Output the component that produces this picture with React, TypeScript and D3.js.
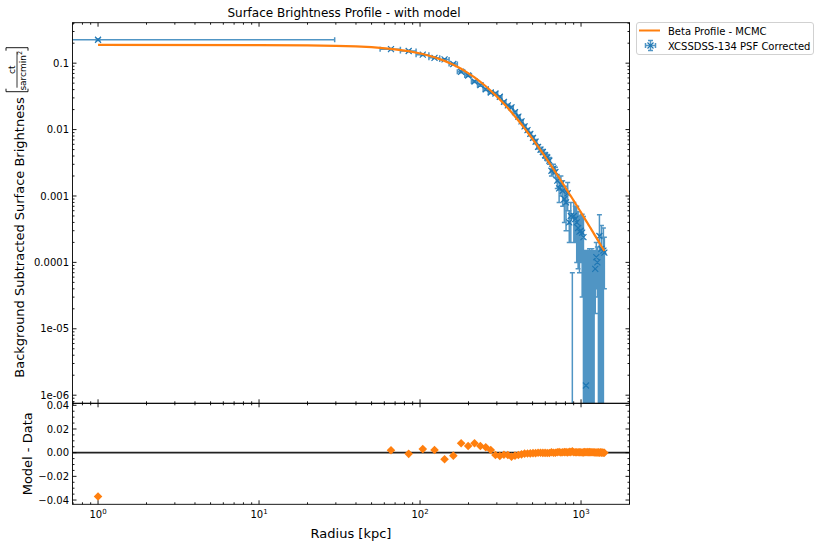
import * as d3 from "d3";

// annulus centres [kpc]
const radiusKpc = [
  1, 66, 85, 104, 123, 142, 161, 180, 199, 218, 237, 256, 275, 294, 313, 332, 351, 370, 389, 408,
  427, 446, 465, 484, 503, 522, 541, 560, 579, 598, 617, 636, 655, 674, 693, 712, 731, 750, 769, 788,
  807, 826, 845, 864, 883, 902, 921, 940, 959, 978, 997, 1016, 1035, 1054, 1073, 1092, 1111, 1130, 1149, 1168,
  1187, 1206, 1225, 1244, 1263, 1282, 1301, 1320, 1339, 1358, 1377, 1396,
];
// first annulus spans the core, the others are ~19 kpc wide
const firstBinEdge = [0, 29.5];
const binHalfWidth = 9.5;

// background subtracted surface brightness [ct / sarcmin^2]
const brightness = [
  0.225, 0.1627, 0.1526, 0.1344, 0.1204, 0.1139, 0.0972, 0.0742, 0.0653, 0.053, 0.0467, 0.0403, 0.0362, 0.035, 0.0312, 0.0261, 0.0231, 0.0216, 0.0183, 0.0157,
  0.0133, 0.0112, 0.0098, 0.0086, 0.0075, 0.0066, 0.0055, 0.005, 0.0046, 0.0041, 0.0038, 0.0034, 0.0024, 0.0026, 0.0023, 0.0017, 0.0013, 0.0015, 0.0012, 0.0009,
  0.0008, 0.0011, 0.0004, 0.0005, -0.0002, 0.0005, 0.00045, 0.0004, 0.00033, 0.00029, 0.0003, 0.00028, 0.00024, -0.00005, 0.0000014, -0.00005, -0.00002, -0.0001, -0.00003, -0.00004,
  -0.00002, -0.00002, 0.00008, 0.00012, 0.0001, -0.00005, 0.00025, -0.0001, 0.00016, -0.00005, 0.00015, 0.00014,
];
const brightnessErr = [
  0.006, 0.004, 0.004, 0.0035, 0.003, 0.003, 0.0028, 0.0025, 0.0022, 0.002, 0.0018, 0.0016, 0.0014, 0.0013, 0.0012, 0.0011, 0.001, 0.0009, 0.0008, 0.0008,
  0.0007, 0.0006, 0.0006, 0.0005, 0.0005, 0.0005, 0.0004, 0.0004, 0.0004, 0.0004, 0.0004, 0.0004, 0.0004, 0.0004, 0.0004, 0.0004, 0.0005, 0.0005, 0.0005, 0.0005,
  0.0005, 0.0005, 0.0002, 0.0003, 0.00027, 0.0003, 0.00025, 0.0003, 0.00025, 0.00022, 0.0002, 0.00025, 0.00025, 0.0002, 0.00015, 0.0002, 0.00017, 0.00026, 0.00018, 0.0002,
  0.00017, 0.00017, 0.000063, 0.00008, 0.00007, 0.0002, 0.00027, 0.00025, 0.0002, 0.0002, 0.00018, 0.0001,
];
// beta profile (MCMC), sampled along radius
const modelRadius = [
  1, 10, 20, 30, 40, 50, 66, 85, 104, 123, 142, 161, 180, 199, 218, 237, 256, 275, 294, 313, 332, 351, 370, 389, 408,
  427, 446, 465, 484, 503, 522, 541, 560, 579, 598, 617, 636, 655, 674, 693, 712, 731, 750, 769, 788,
  807, 826, 845, 864, 883, 902, 921, 940, 959, 978, 997, 1016, 1035, 1054, 1073, 1092, 1111, 1130, 1149, 1168,
  1187, 1206, 1225, 1244, 1263, 1282, 1301, 1320, 1339, 1358, 1377, 1396,
];
const betaModel = [
  0.188, 0.1874, 0.1857, 0.1828, 0.1789, 0.1741,
  0.1647, 0.1516, 0.1374, 0.1227, 0.1083, 0.0947, 0.0822, 0.071, 0.061, 0.0524, 0.0449, 0.0385, 0.033, 0.0284, 0.0244, 0.0211, 0.0182, 0.01576, 0.01369,
  0.01192, 0.01041, 0.00912, 0.00801, 0.00706, 0.00624, 0.00553, 0.00491, 0.00438, 0.0039, 0.00349, 0.00313, 0.00281, 0.00254, 0.00229, 0.00207, 0.00188, 0.00171, 0.00155, 0.00142,
  0.00129, 0.00118, 0.00108, 0.000996, 0.000916, 0.000844, 0.000778, 0.000719, 0.000664, 0.000615, 0.00057, 0.000529, 0.000491, 0.000457, 0.000426, 0.000398, 0.000371, 0.000347, 0.000325, 0.000304,
  0.000285, 0.000267, 0.000251, 0.000236, 0.000222, 0.000209, 0.000197, 0.000186, 0.000175, 0.000166, 0.000157, 0.000148,
];
// model - data, per annulus
const residual = [
  -0.037, 0.002, -0.001, 0.003, 0.0023, -0.0056, -0.0025, 0.008, 0.0057, 0.008, 0.0057, 0.0046, 0.0023, -0.002, -0.0028, -0.0017, -0.002, -0.0034, -0.0025, -0.002,
  -0.0014, -0.0008, -0.0007, -0.0006, -0.0004, -0.0004, 0.0, -0.0001, -0.0002, -0.0002, -0.0003, -0.0003, 0.0004, -0.0001, 0.0, 0.0004, 0.0006, 0.0002, 0.0004, 0.0005,
  0.0005, 0.0001, 0.0007, 0.0005, 0.0011, 0.0003, 0.0003, 0.0003, 0.0003, 0.0003, 0.0003, 0.0002, 0.00025, 0.0005, 0.0004, 0.00045, 0.0004, 0.00045, 0.00036, 0.00034,
  0.0003, 0.00029, 0.00017, 0.00012, 0.00012, 0.00026, -0.00005, 0.0003, 0.00002, 0.0002, 0.0, 0.0,
];

const xMajor = [1, 10, 100, 1000];
const xMajorExp = ["0", "1", "2", "3"];
const yMajor = [1e-6, 1e-5, 1e-4, 1e-3, 1e-2, 1e-1];
const yMajorLabels = ["1e-06", "1e-05", "0.0001", "0.001", "0.01", "0.1"];
const resMajor = [-0.04, -0.02, 0, 0.02, 0.04];
const resMajorLabels = ["\u22120.04", "\u22120.02", "0.00", "0.02", "0.04"];

const BLUE = "#1f77b4";
const ORANGE = "#ff7f0e";
const FONT = "DejaVu Sans";

const W = 820;
const H = 549;
const left = 72.5;
const right = 629.5;
const mainTop = 22.7;
const mainBottom = 403.3;
const resBottom = 504.3;

const x = d3.scaleLog().domain([0.694, 2000]).range([left, right]);
const yMain = d3.scaleLog().domain([7.55e-7, 0.407]).range([mainBottom, mainTop]);
const yRes = d3.scaleLinear().domain([-0.0436, 0.0417]).range([resBottom, mainBottom]);

const isDecade = (v) => Math.abs(Math.log10(v) - Math.round(Math.log10(v))) < 1e-6;
const MAJ = 4;
const MIN = 2;

function Ticks() {
  const xt = x.ticks();
  const yt = yMain.ticks();
  const rt = d3.range(-8, 9).map((k) => k * 0.005);
  let d = "";
  for (const v of xt) {
    const px = x(v);
    const l = isDecade(v) ? MAJ : MIN;
    d += `M${px},${mainTop}v${l}M${px},${mainBottom}v${-l}M${px},${mainBottom}v${l}M${px},${resBottom}v${-l}`;
  }
  for (const v of yt) {
    const py = yMain(v);
    const l = isDecade(v) ? MAJ : MIN;
    d += `M${left},${py}h${l}M${right},${py}h${-l}`;
  }
  for (const v of rt) {
    const py = yRes(v);
    const l = Math.abs(Math.round(v * 1000) % 20) === 0 ? MAJ : MIN;
    d += `M${left},${py}h${l}M${right},${py}h${-l}`;
  }
  return <path d={d} stroke="#000" strokeWidth={0.9} fill="none" />;
}

function ErrorBars() {
  const cap = 2.5;
  let bars = "";
  let marks = "";
  radiusKpc.forEach((r, i) => {
    const v = brightness[i];
    const e = brightnessErr[i];
    const cx = x(r);
    const hi = yMain(v + e);
    const lo = v - e > 0 ? yMain(v - e) : mainBottom + 30;
    bars += `M${cx},${lo}V${hi}M${cx - cap},${hi}h${2 * cap}`;
    if (v - e > 0) bars += `M${cx - cap},${lo}h${2 * cap}`;
    if (v > 0) {
      const cy = yMain(v);
      const x0 = i === 0 ? (firstBinEdge[0] > 0 ? x(firstBinEdge[0]) : left - 30) : x(r - binHalfWidth);
      const x1 = i === 0 ? x(firstBinEdge[1]) : x(r + binHalfWidth);
      bars += `M${x0},${cy}H${x1}M${x1},${cy - cap}v${2 * cap}M${x0},${cy - cap}v${2 * cap}`;
      marks += `M${cx - 3},${cy - 3}l6,6M${cx - 3},${cy + 3}l6,-6`;
    }
  });
  return (
    <g>
      <path d={bars} stroke={BLUE} strokeOpacity={0.78} strokeWidth={1.5} fill="none" />
      <path d={marks} stroke={BLUE} strokeWidth={1.2} fill="none" />
    </g>
  );
}

export default function App() {
  const line = d3
    .line()
    .x((d) => x(d[0]))
    .y((d) => yMain(d[1]));
  const modelPts = modelRadius.map((r, i) => [r, betaModel[i]]);

  return (
    <div style={{ position: "absolute", left: 0, top: 0 }}>
      <svg width={W} height={H} style={{ display: "block", background: "#fff" }} fontFamily={FONT}>
        <defs>
          <clipPath id="clipMain">
            <rect x={left} y={mainTop} width={right - left} height={mainBottom - mainTop} />
          </clipPath>
          <clipPath id="clipRes">
            <rect x={left} y={mainBottom} width={right - left} height={resBottom - mainBottom} />
          </clipPath>
        </defs>
        <rect width={W} height={H} fill="#fff" />

        {/* main panel */}
        <g clipPath="url(#clipMain)">
          <ErrorBars />
          <path d={line(modelPts)} stroke={ORANGE} strokeWidth={2.2} fill="none" />
        </g>

        {/* residual panel */}
        <g clipPath="url(#clipRes)">
          <line x1={left} x2={right} y1={yRes(0)} y2={yRes(0)} stroke="#222" strokeWidth={1.8} />
          {radiusKpc.map((r, i) => (
            <path
              key={i}
              transform={`translate(${x(r)},${yRes(residual[i])})`}
              d="M0,-4.3L4.3,0L0,4.3L-4.3,0Z"
              fill={ORANGE}
            />
          ))}
        </g>

        <Ticks />
        <rect x={left} y={mainTop} width={right - left} height={mainBottom - mainTop} fill="none" stroke="#000" strokeWidth={0.9} />
        <rect x={left} y={mainBottom} width={right - left} height={resBottom - mainBottom} fill="none" stroke="#000" strokeWidth={0.9} />

        {/* tick labels */}
        <g fontSize={10} fill="#000">
          {yMajor.map((v, i) => (
            <text key={"ym" + i} x={69} y={yMain(v) + 3.6} textAnchor="end">
              {yMajorLabels[i]}
            </text>
          ))}
          {resMajor.map((v, i) => (
            <text key={"rm" + i} x={69} y={yRes(v) + 3.6} textAnchor="end">
              {resMajorLabels[i]}
            </text>
          ))}
          {xMajor.map((v, i) => (
            <text key={"xm" + i} x={x(v)} y={518} textAnchor="middle">
              10
              <tspan dy={-4} fontSize={7}>
                {xMajorExp[i]}
              </tspan>
            </text>
          ))}
        </g>

        {/* titles */}
        <text x={344} y={16.5} fontSize={12} textAnchor="middle">
          Surface Brightness Profile - with model
        </text>
        <text x={(left + right) / 2} y={538} fontSize={13} textAnchor="middle">
          Radius [kpc]
        </text>
        <text transform={`translate(31.5,${(mainBottom + resBottom) / 2}) rotate(-90)`} fontSize={13} textAnchor="middle">
          Model - Data
        </text>
        <g transform="translate(24,377.7) rotate(-90)">
          <text x={0} y={0} fontSize={13}>
            Background Subtracted Surface Brightness
          </text>
          <path d="M289,-18H286V4H289M327,-18H330V4H327" stroke="#000" strokeWidth={0.9} fill="none" />
          <text x={308} y={-9.5} fontSize={9} textAnchor="middle">
            ct
          </text>
          <line x1={290} x2={326} y1={-7} y2={-7} stroke="#000" strokeWidth={0.8} />
          <text x={307} y={1.5} fontSize={9} textAnchor="middle">
            sarcmin
            <tspan dy={-3.5} fontSize={6.5}>
              2
            </tspan>
          </text>
        </g>

        {/* legend */}
        <g>
          <rect x={636.5} y={22.5} width={177} height={32} rx={2.5} fill="#fff" stroke="#cccccc" strokeWidth={0.9} />
          <line x1={639} x2={660} y1={30.5} y2={30.5} stroke={ORANGE} strokeWidth={2} />
          <text x={668} y={34.5} fontSize={10}>
            Beta Profile - MCMC
          </text>
          <path
            d="M645.5,45.5h10M645.5,43v5M655.5,43v5M650.5,40.5v10M648,40.5h5M648,50.5h5"
            stroke={BLUE}
            strokeOpacity={0.78}
            strokeWidth={1.5}
            fill="none"
          />
          <path d="M647.5,42.5l6,6M647.5,48.5l6,-6" stroke={BLUE} strokeWidth={1.2} fill="none" />
          <text x={668} y={49.5} fontSize={10}>
            XCSSDSS-134 PSF Corrected
          </text>
        </g>
      </svg>
    </div>
  );
}
